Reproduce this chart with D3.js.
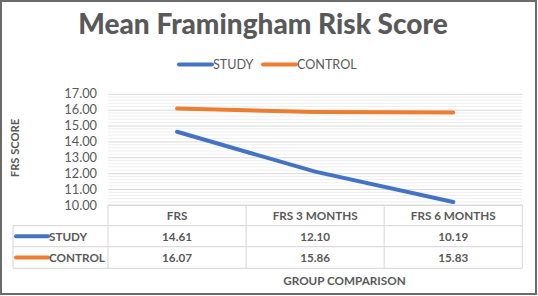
<!DOCTYPE html>
<html><head><meta charset="utf-8">
<script src="https://cdn.jsdelivr.net/npm/d3@7"></script>
<style>body{margin:0;background:#fff}svg{display:block}</style>
</head><body>
<script>
const categories = ["FRS", "FRS 3 MONTHS", "FRS 6 MONTHS"];
const seriesNames = ["STUDY", "CONTROL"];
const studyValues = [14.61, 12.10, 10.19];
const controlValues = [16.07, 15.86, 15.83];
const yTicks = [10, 11, 12, 13, 14, 15, 16, 17];
const colors = ["#4472C4", "#ED7D31"];
const series = [studyValues, controlValues];

const W = 538, H = 296;
const font = "Lato, 'Open Sans', sans-serif";
const textColor = "#595959";
const svg = d3.select("body").append("svg").attr("width", W).attr("height", H);

svg.append("rect").attr("x", 1).attr("y", 1).attr("width", W - 3).attr("height", H - 3)
  .attr("fill", "#fff").attr("stroke", "#6b6b6b").attr("stroke-width", 2);

// title
svg.append("text").attr("x", 263).attr("y", 34).attr("text-anchor", "middle")
  .attr("font-family", font).attr("font-weight", 900).attr("font-size", 28)
  .attr("fill", textColor).text("Mean Framingham Risk Score");

const left = 108, right = 522.3;
const x = d3.scaleBand().domain(categories).range([left, right]);
const y = d3.scaleLinear().domain([10, 17]).range([205, 93.8]);

// minor gridlines
const minor = d3.range(10, 17.001, 0.2).filter(v => Math.abs(v - Math.round(v)) > 1e-6);
svg.append("g").selectAll("line").data(minor).join("line")
  .attr("x1", left).attr("x2", right).attr("y1", d => y(d)).attr("y2", d => y(d))
  .attr("stroke", "#efefef").attr("stroke-width", 1);

// major gridlines via axis
const yAxis = d3.axisLeft(y).tickValues(yTicks).tickFormat(d3.format(".2f")).tickSize(-(right - left)).tickPadding(11);
const ag = svg.append("g").attr("transform", `translate(${left},0)`).call(yAxis);
ag.select(".domain").remove();
ag.selectAll(".tick line").attr("stroke", "#d9d9d9");
ag.selectAll(".tick text").attr("font-family", font).attr("font-size", 12.8).attr("fill", textColor);

// y title
svg.append("text").attr("transform", "translate(19,148) rotate(-90)").attr("text-anchor", "middle")
  .attr("font-family", font).attr("font-weight", "bold").attr("font-size", 11.2)
  .attr("fill", textColor).text("FRS SCORE");

// lines
const line = d3.line().x((d, i) => x(categories[i]) + x.bandwidth() / 2).y(d => y(d));
series.forEach((s, k) => {
  svg.append("path").datum(s).attr("d", line).attr("fill", "none")
    .attr("stroke", colors[k]).attr("stroke-width", 4).attr("stroke-linecap", "round");
});

// legend
const legX = [179, 263];
seriesNames.forEach((n, k) => {
  svg.append("line").attr("x1", legX[k]).attr("x2", legX[k] + 33).attr("y1", 64.5).attr("y2", 64.5)
    .attr("stroke", colors[k]).attr("stroke-width", 4).attr("stroke-linecap", "round");
  svg.append("text").attr("x", legX[k] + 34).attr("y", 69).attr("font-family", font)
    .attr("font-size", 12.6).attr("fill", textColor).text(n);
});

// data table
const rowY = [205, 225.7, 246.7, 268.3];
const tableLeft = 13;
const grid = svg.append("g").attr("stroke", "#dcdcdc").attr("stroke-width", 1.2).attr("fill", "none");
grid.append("line").attr("x1", left).attr("x2", right).attr("y1", rowY[0]).attr("y2", rowY[0]);
[1, 2, 3].forEach(r => grid.append("line").attr("x1", tableLeft).attr("x2", right).attr("y1", rowY[r]).attr("y2", rowY[r]));
grid.append("line").attr("x1", tableLeft).attr("x2", tableLeft).attr("y1", rowY[1]).attr("y2", rowY[3]);
categories.forEach(c => grid.append("line").attr("x1", x(c)).attr("x2", x(c)).attr("y1", rowY[0]).attr("y2", rowY[3]));
grid.append("line").attr("x1", right).attr("x2", right).attr("y1", rowY[0]).attr("y2", rowY[3]);

const tf = (sel) => sel.attr("font-family", font).attr("font-weight", "bold").attr("font-size", 11.7).attr("fill", textColor);
categories.forEach(c => {
  tf(svg.append("text").attr("x", x(c) + x.bandwidth() / 2).attr("y", (rowY[0] + rowY[1]) / 2 + 4.3)
    .attr("text-anchor", "middle").text(c));
});
series.forEach((s, k) => {
  const cy = (rowY[k + 1] + rowY[k + 2]) / 2;
  svg.append("line").attr("x1", 16).attr("x2", 48).attr("y1", cy).attr("y2", cy)
    .attr("stroke", colors[k]).attr("stroke-width", 4).attr("stroke-linecap", "round");
  tf(svg.append("text").attr("x", 49).attr("y", cy + 4.3).attr("font-size", 12.5).text(seriesNames[k]));
  s.forEach((v, i) => {
    tf(svg.append("text").attr("x", x(categories[i]) + x.bandwidth() / 2).attr("y", cy + 4.3)
      .attr("text-anchor", "middle").text(v.toFixed(2)));
  });
});

// x title
tf(svg.append("text").attr("x", 344.5).attr("y", 284.5).attr("text-anchor", "middle").attr("font-size", 12).text("GROUP COMPARISON"));
</script>
</body></html>
